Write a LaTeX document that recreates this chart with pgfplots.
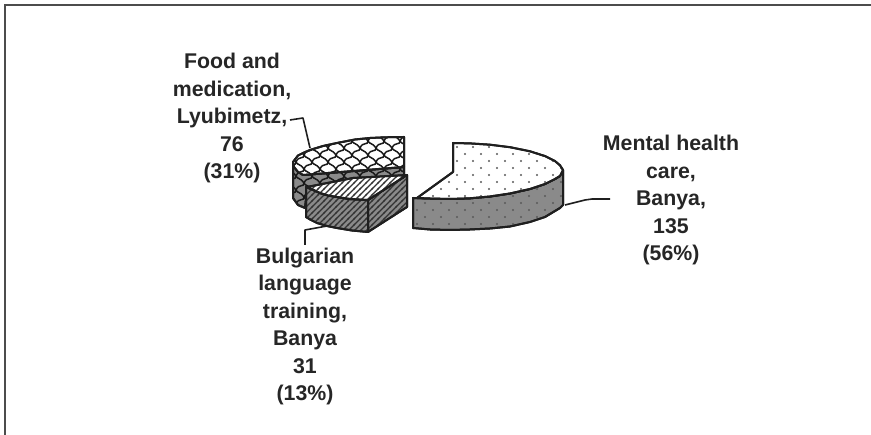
\documentclass[border=0pt]{standalone}
\usepackage{fontspec}
\setmainfont{Liberation Sans}
\usepackage{pgfplots}
\pgfplotsset{compat=1.18}
\usetikzlibrary{patterns}
\definecolor{ink}{gray}{0.12}
\definecolor{side}{gray}{0.54}
\pgfdeclarepatternformonly{sdots}{\pgfqpoint{-1pt}{-1pt}}{\pgfqpoint{15pt}{15pt}}{\pgfqpoint{16pt}{14pt}}{%
  \pgfpathcircle{\pgfqpoint{1pt}{1pt}}{1.1pt}\pgfusepath{fill}%
  \pgfpathcircle{\pgfqpoint{9pt}{8pt}}{1.1pt}\pgfusepath{fill}}
\pgfdeclarepatternformonly{shatch}{\pgfqpoint{-1pt}{-1pt}}{\pgfqpoint{7pt}{7pt}}{\pgfqpoint{6pt}{6pt}}{%
  \pgfsetlinewidth{1.1pt}%
  \pgfpathmoveto{\pgfqpoint{-1pt}{-1pt}}\pgfpathlineto{\pgfqpoint{7pt}{7pt}}\pgfusepath{stroke}}
\pgfdeclarepatternformonly{sscale}{\pgfqpoint{-1pt}{-1pt}}{\pgfqpoint{17pt}{15pt}}{\pgfqpoint{16pt}{14pt}}{%
  \pgfsetlinewidth{1.5pt}%
  \pgfpathmoveto{\pgfqpoint{0pt}{0pt}}\pgfpathcurveto{\pgfqpoint{3pt}{7pt}}{\pgfqpoint{8pt}{2pt}}{\pgfqpoint{8pt}{7pt}}\pgfusepath{stroke}%
  \pgfpathmoveto{\pgfqpoint{16pt}{0pt}}\pgfpathcurveto{\pgfqpoint{13pt}{5pt}}{\pgfqpoint{9pt}{4pt}}{\pgfqpoint{8pt}{7pt}}\pgfusepath{stroke}%
  \pgfpathmoveto{\pgfqpoint{8pt}{7pt}}\pgfpathcurveto{\pgfqpoint{11pt}{14pt}}{\pgfqpoint{16pt}{9pt}}{\pgfqpoint{16pt}{14pt}}\pgfusepath{stroke}%
  \pgfpathmoveto{\pgfqpoint{8pt}{7pt}}\pgfpathcurveto{\pgfqpoint{5pt}{12pt}}{\pgfqpoint{1pt}{11pt}}{\pgfqpoint{0pt}{14pt}}\pgfusepath{stroke}}
\tikzset{
 slice/.style={draw=ink,line width=2pt,line join=round,fill=#1},
 pdots/.style={postaction={pattern=sdots,pattern color=black!65}},
 phatch/.style={postaction={pattern=shatch,pattern color=black!80}},
 pscale/.style={postaction={pattern=sscale,pattern color=black!90}},
 lead/.style={draw=ink,line width=1.6pt,no marks,line join=round},
 lab/.style={align=center,font=\bfseries\fontsize{21.3}{27.5}\selectfont,text=black!85}
}
\begin{document}
\begin{tikzpicture}
\useasboundingbox (0,0) rectangle (871pt,435pt);
\begin{axis}[
  at={(0,0)}, anchor=south west,
  scale only axis, width=871pt, height=435pt,
  xmin=0, xmax=871, ymin=0, ymax=435, y dir=reverse,
  hide axis, clip=true, no markers,
  every axis plot/.append style={no marks}
]
% frame
\addplot[draw=black!70,line width=2pt] coordinates {(5,435) (5,5) (871,5)};
% Food and medication, Lyubimetz, 76 (31%): side
\addplot[slice=side,pscale] coordinates {(293,162) (303,175) (404,167) (404,180) (307,190) (305,208) (298,205) (293,198)} --cycle;
% top
\addplot[slice=white,pscale] coordinates {(404,137) (385,137.3) (370,138) (355,139.5) (337,143) (323,146) (310,150) (303,153) (298,155.5) (293,162) (294,167) (298,172) (303,175) (404,167)} --cycle;
% Bulgarian language training, Banya, 31 (13%): sides
\addplot[slice=side,phatch] coordinates {(306,187) (320,193) (328,195.5) (337,197) (350,199) (368,200) (368,232) (352,230.5) (337,228) (327,226) (317,223) (311,220) (306,217)} --cycle;
\addplot[slice=side,phatch] coordinates {(368,200) (407,175) (407,207) (368,232)} --cycle;
\addplot[slice=white,phatch] coordinates {(307,187) (353,178) (407,175) (368,200) (350,199) (337,197) (328,195.5) (320,193)} --cycle;
% Mental health care, Banya, 135 (56%): side
\addplot[slice=side,pdots] coordinates {(413,198) (430,198.5) (450,199) (470,198.3) (490,196.5) (510,193.5) (530,189) (545,184) (555,179) (560,176) (563,170) (563,205) (560,208) (555,211) (545,217) (530,222) (510,226.5) (490,228.5) (470,229.5) (450,230) (430,229.5) (413,228)} --cycle;
% top
\addplot[slice=white,pdots] coordinates {(453,143) (470,143.4) (490,144.7) (510,147.2) (530,151.3) (545,156.1) (555,161.1) (560,165.3) (563,170) (560,176) (555,179) (545,184) (530,189) (510,193.5) (490,196.5) (470,198.3) (450,199) (430,198.5) (417,198) (453,172)} --cycle;
% leaders
\addplot[lead] coordinates {(565,205) (575,202.5) (585,200) (592,199) (610,199)};
\addplot[lead] coordinates {(290,120) (303,118) (310,148)};
\addplot[lead] coordinates {(305,245) (305,230) (327,226)};
% labels
\node[lab] at (axis cs:232,118) {Food and\\medication,\\Lyubimetz,\\76\\(31\%)};
\node[lab] at (axis cs:305,326.5) {Bulgarian\\language\\training,\\Banya\\31\\(13\%)};
\node[lab] at (axis cs:671,200) {Mental health\\care,\\Banya,\\135\\(56\%)};
\end{axis}
\end{tikzpicture}
\end{document}
